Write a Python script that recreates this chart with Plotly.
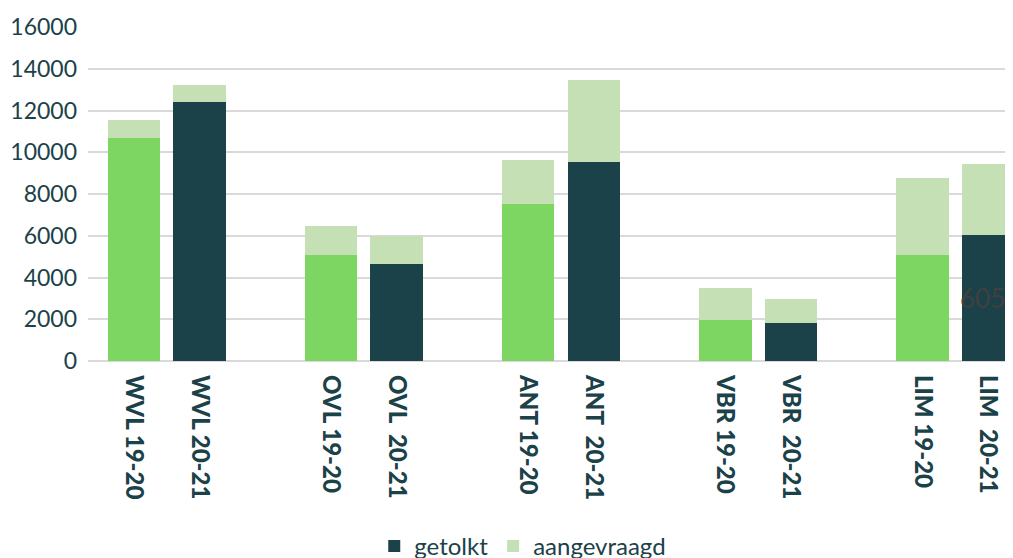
import plotly.graph_objects as go

labels = ["WVL 19-20", "WVL 20-21", "OVL 19-20", "OVL\u00a0 20-21", "ANT 19-20", "ANT\u00a0 20-21",
          "VBR 19-20", "VBR\u00a0 20-21", "LIM 19-20", "LIM\u00a0 20-21"]
positions = [0, 1, 3, 4, 6, 7, 9, 10, 12, 13]
getolkt = [10700, 12400, 5080, 4650, 7520, 9530, 1960, 1820, 5080, 6056]
totaal = [11550, 13220, 6470, 5990, 9630, 13460, 3500, 2970, 8770, 9440]
aangevraagd = [t - g for t, g in zip(totaal, getolkt)]
yticks = [0, 2000, 4000, 6000, 8000, 10000, 12000, 14000, 16000]

DARK = "#1B4149"
GREEN = "#7ED662"
LIGHT = "#C5E0B4"
FONT = "Lato"

old_idx = [i for i in range(len(labels)) if "19-20" in labels[i]]
new_idx = [i for i in range(len(labels)) if "20-21" in labels[i]]

fig = go.Figure()
fig.add_trace(go.Bar(x=[positions[i] for i in new_idx], y=[getolkt[i] for i in new_idx],
                     name="getolkt", marker=dict(color=DARK, line=dict(width=0)), width=0.8))
fig.add_trace(go.Bar(x=[positions[i] for i in old_idx], y=[getolkt[i] for i in old_idx],
                     name="getolkt", showlegend=False, marker=dict(color=GREEN, line=dict(width=0)), width=0.8))
fig.add_trace(go.Bar(x=positions, y=aangevraagd, name="aangevraagd",
                     marker=dict(color=LIGHT, line=dict(width=0)), width=0.8))

# partially visible data label on last bar
fig.add_annotation(x=positions[-1], y=getolkt[-1] / 2, text=str(getolkt[-1]), showarrow=False,
                   font=dict(family=FONT, size=26, color="#404040"), xanchor="left", yanchor="middle",
                   xshift=-30)

# page has an 8px body margin, so the figure is 8px smaller than the window
fig.update_layout(
    barmode="stack",
    width=1005, height=550,
    margin=dict(l=80, r=0, t=19, b=197, autoexpand=False),
    plot_bgcolor="white", paper_bgcolor="white",
    font=dict(family=FONT, color=DARK),
    showlegend=True,
    legend=dict(orientation="h", x=0.47, xanchor="center", y=-0.555, yanchor="middle",
                traceorder="normal", font=dict(family=FONT, size=24, color=DARK)),
    xaxis=dict(tickmode="array", tickvals=positions, ticktext=labels,
               tickangle=90, range=[-0.7, 13.38], showgrid=False, zeroline=False, showline=False,
               tickfont=dict(family="Lato Heavy", size=24, color=DARK), ticklabelstandoff=13),
    yaxis=dict(range=[0, 16000], tickmode="array", tickvals=yticks, ticktext=[str(v) for v in yticks],
               showgrid=True, gridcolor="#D9D9D9", gridwidth=2,
               zeroline=True, zerolinecolor="#D9D9D9", zerolinewidth=2,
               tickfont=dict(family=FONT, size=23, color=DARK), ticklabelstandoff=10),
)

fig.write_html("out.html")
